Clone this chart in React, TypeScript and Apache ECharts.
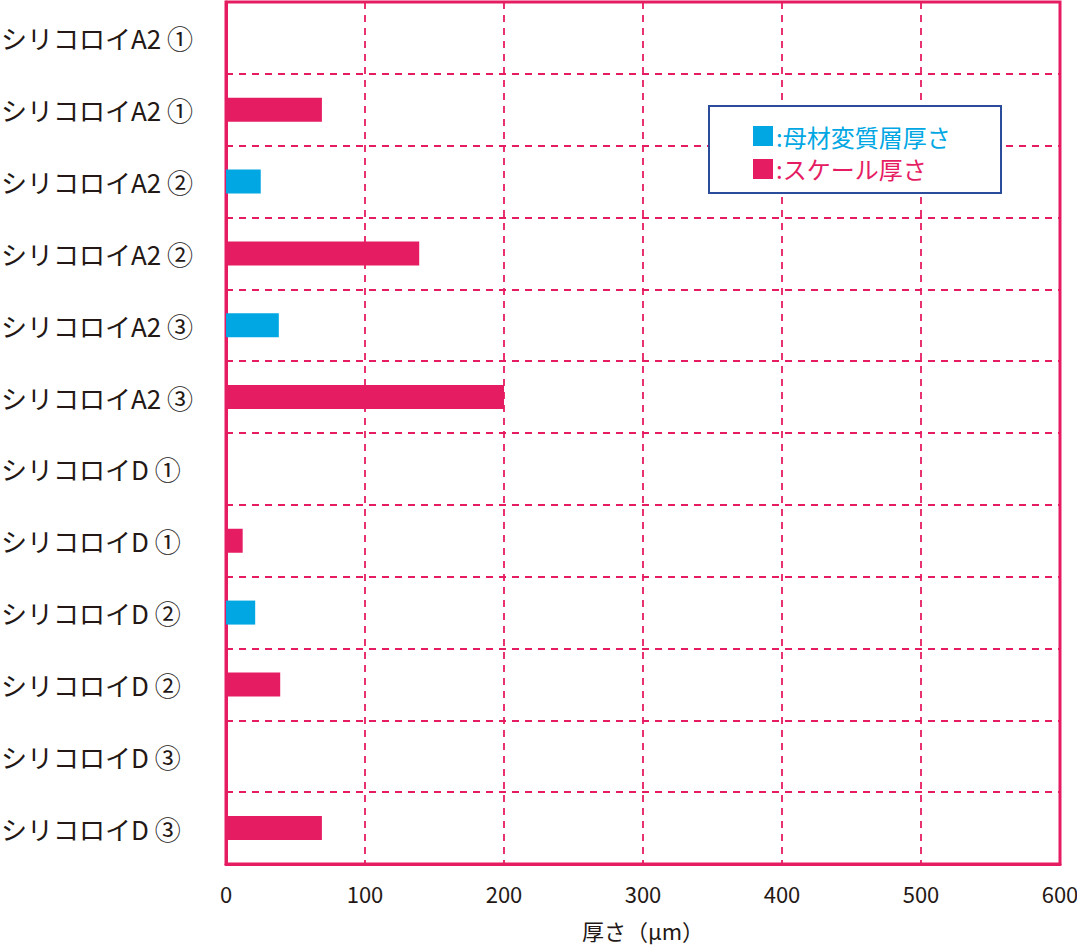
import React, { useEffect, useRef } from "react";
import * as echarts from "echarts";

const categoryLabels = [
  "シリコロイA2 ①",
  "シリコロイA2 ①",
  "シリコロイA2 ②",
  "シリコロイA2 ②",
  "シリコロイA2 ③",
  "シリコロイA2 ③",
  "シリコロイD ①",
  "シリコロイD ①",
  "シリコロイD ②",
  "シリコロイD ②",
  "シリコロイD ③",
  "シリコロイD ③",
];
const categoryKeys = categoryLabels.map((_, i) => String(i));

const seriesNames = ["母材変質層厚さ", "スケール厚さ"];
const baseLayerValues: (number | string)[] = [0, "-", 25, "-", 38, "-", 0, "-", 21, "-", 0, "-"];
const scaleValues: (number | string)[] = ["-", 69, "-", 139, "-", 200, "-", 12, "-", 39, "-", 69];

const xTicks = { min: 0, max: 600, interval: 100 };

const PINK = "#e61c63";
const BLUE = "#00a7e3";
const FONT = "'Noto Sans CJK JP', 'Noto Sans', sans-serif";

export default function App() {
  const ref = useRef<HTMLDivElement>(null);
  useEffect(() => {
    document.body.style.margin = "0";
    const chart = echarts.init(ref.current!, null, { renderer: "svg" });
    chart.setOption({
      animation: false,
      textStyle: { fontFamily: FONT },
      grid: {
        left: 226,
        right: 17,
        top: 2,
        bottom: 86,
        outerBoundsMode: "none",
        containLabel: false,
        show: true,
        borderColor: PINK,
        borderWidth: 3,
        backgroundColor: "transparent",
      },
      legend: {
        orient: "vertical",
        left: 753,
        top: 124,
        padding: 0,
        itemWidth: 20,
        itemHeight: 20,
        itemGap: 9,
        icon: "rect",
        z: 5,
        formatter: (n: string) => ":" + n,
        data: [
          { name: seriesNames[0], textStyle: { color: BLUE } },
          { name: seriesNames[1], textStyle: { color: PINK } },
        ],
        textStyle: { fontSize: 24, fontFamily: FONT, padding: [0, 0, 0, -2] },
      },
      graphic: [
        {
          type: "rect",
          z: 3,
          shape: { x: 709, y: 106, width: 292, height: 87 },
          style: { fill: "#ffffff", stroke: "#2b4c9b", lineWidth: 2 },
        },
      ],
      xAxis: {
        type: "value",
        min: xTicks.min,
        max: xTicks.max,
        interval: xTicks.interval,
        name: "厚さ（μm）",
        nameLocation: "middle",
        nameGap: 55,
        nameTextStyle: { fontSize: 22, color: "#231815", fontFamily: FONT },
        axisLine: { show: true, lineStyle: { color: PINK, width: 3 } },
        axisTick: { show: false },
        axisLabel: { fontSize: 22, color: "#231815", margin: 18, fontFamily: FONT },
        splitLine: { show: true, lineStyle: { color: PINK, width: 1.8, type: [7, 6] } },
      },
      yAxis: {
        type: "category",
        inverse: true,
        data: categoryKeys,
        axisLine: { show: true, lineStyle: { color: PINK, width: 3 } },
        axisTick: { show: false },
        axisLabel: {
          fontSize: 26,
          color: "#231815",
          align: "left",
          margin: 225,
          fontFamily: FONT,
          formatter: (v: string) => categoryLabels[Number(v)],
        },
        splitLine: { show: true, lineStyle: { color: PINK, width: 1.8, type: [7, 6] } },
      },
      series: [
        {
          name: seriesNames[0],
          type: "bar",
          stack: "t",
          barWidth: 24,
          itemStyle: { color: BLUE },
          data: baseLayerValues,
        },
        {
          name: seriesNames[1],
          type: "bar",
          stack: "t",
          barWidth: 24,
          itemStyle: { color: PINK },
          data: scaleValues,
        },
      ],
    });
    return () => chart.dispose();
  }, []);
  return <div ref={ref} style={{ width: 1077, height: 950 }} />;
}
